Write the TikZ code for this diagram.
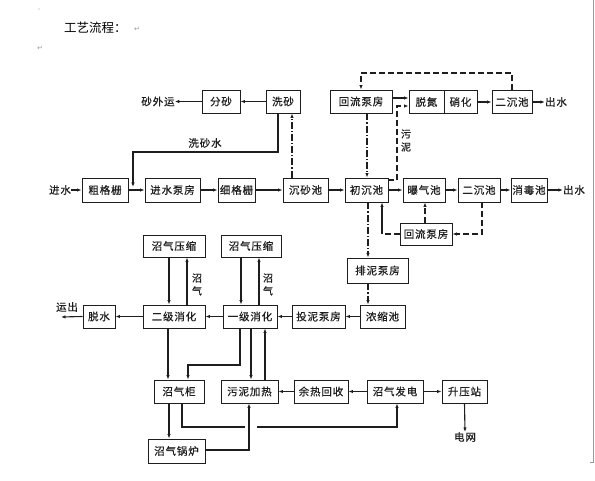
\documentclass[tikz,border=0pt]{standalone}
\usepackage{fontspec}
\newfontfamily\cjk{Noto Sans CJK SC}
\newfontfamily\boxfont{Noto Sans CJK SC}[LetterSpace=8, FakeBold=0.6]
\newfontfamily\symfont{DejaVu Sans}
\usetikzlibrary{arrows.meta}
\definecolor{ink}{HTML}{1E1E1E}
\definecolor{pagegray}{HTML}{9A9A9A}
\tikzset{
  stage/.style={
    rectangle, draw=ink, line width=0.9pt,
    minimum width=#1pt, minimum height=23pt,
    inner sep=0pt, text=ink,
    font=\fontsize{10.5}{12}\boxfont
  },
  stage/.default=45,
  flow/.style={-{Latex[length=4.5pt,width=3.4pt]}, line width=1.1pt, ink},
  sludge/.style={flow, dash pattern=on 7pt off 2pt on 1.2pt off 2pt},
  retflow/.style={flow, dash pattern=on 6pt off 3pt},
  plain/.style={line width=1.1pt, ink},
  tag/.style={inner sep=0pt, text=ink, font=\fontsize{10.5}{12}\boxfont},
  vtag/.style={inner sep=0pt, text=ink, align=center,
    font=\fontsize{10}{13}\boxfont},
  retmark/.style={inner sep=0pt, text=pagegray,
    font=\fontsize{7}{8}\symfont}
}

\begin{document}
\begin{tikzpicture}[x=1pt, y=-1pt]
  \useasboundingbox (0,0) rectangle (595,481);

  % page marks
  \fill[pagegray] (39,9) circle (0.6);
  \node[anchor=west, inner sep=0pt, font=\fontsize{12.5}{14}\cjk]
    (title) at (64,28) {工艺流程：};
  \node[retmark] (retA) at (137,29) {↵};
  \node[retmark] (retB) at (40,48) {↵};
  \draw[pagegray, line width=0.8pt] (593.5,0) -- (593.5,462) -- (590,462);

  % sand line
  \node[tag] (shawaiyun) at (158,101.5) {砂外运};
  \node[stage=38] (fensha) at (221,101.5) {分砂};
  \node[stage=34] (xisha) at (283,101.5) {洗砂};
  \node[tag] (xishashui) at (205,143) {洗砂水};

  % nitrogen removal line
  \node[stage=62] (huiliu) at (361,101.5) {回流泵房};
  \node[stage=35] (tuodan) at (426.5,102) {脱氮};
  \node[stage=33] (xiaohua) at (460.5,102) {硝化};
  \node[stage=40] (erchenA) at (512,102) {二沉池};
  \node[tag] (chushuiA) at (556,102) {出水};
  \node[vtag] (wuni) at (406,140.5) {污\\泥};

  % water line
  \node[tag] (jinshui) at (60,190) {进水};
  \node[stage=46, minimum height=24pt] (cugeshan) at (105,190) {粗格栅};
  \node[stage=55, minimum height=24pt] (bengfang) at (172.5,190) {进水泵房};
  \node[stage=37, minimum height=24pt] (xigeshan) at (236.5,190) {细格栅};
  \node[stage=45, minimum height=24pt] (chensha) at (305.5,190) {沉砂池};
  \node[stage=43, minimum height=24pt] (chuchen) at (366.5,190) {初沉池};
  \node[stage=42, minimum height=24pt] (baoqi) at (424,190) {曝气池};
  \node[stage=42, minimum height=24pt] (erchenB) at (479,190) {二沉池};
  \node[stage=36, minimum height=24pt] (xiaodu) at (529,190) {消毒池};
  \node[tag] (chushuiB) at (574,190) {出水};
  \node[stage=52, minimum height=22pt] (huiliuB) at (426,234) {回流泵房};
  \node[stage=61, minimum height=25pt] (paini) at (377.5,270.5) {排泥泵房};

  % sludge line
  \node[tag] (yunchu) at (67,307) {运出};
  \node[stage=32] (tuoshui) at (99,316.5) {脱水};
  \node[stage=62] (erji) at (174,316.5) {二级消化};
  \node[stage=54] (yiji) at (250,316.5) {一级消化};
  \node[stage=53] (tounii) at (318.5,316.5) {投泥泵房};
  \node[stage=45] (nongsuo) at (382.5,316.5) {浓缩池};
  \node[stage=62, minimum height=22pt] (yasuoA) at (174,246) {沼气压缩};
  \node[stage=60, minimum height=22pt] (yasuoB) at (251,246) {沼气压缩};
  \node[vtag] (zhaoqiA) at (197,284.5) {沼\\气};
  \node[vtag] (zhaoqiB) at (268,284.5) {沼\\气};

  % biogas line
  \node[stage=50] (qigui) at (179,391.5) {沼气柜};
  \node[stage=57] (jiare) at (249.5,391.5) {污泥加热};
  \node[stage=54] (yure) at (321,391.5) {余热回收};
  \node[stage=56] (fadian) at (395,391.5) {沼气发电};
  \node[stage=45] (shengya) at (464.5,391.5) {升压站};
  \node[tag] (dianwang) at (465,437) {电网};
  \node[stage=57, minimum height=24pt] (guolu) at (176.5,451) {沼气锅炉};

  \coordinate (xsw) at (133,187);
  \coordinate (topA) at (361,73);
  \coordinate (wn) at (397,106);
  \coordinate (hc) at (382,234);
  \coordinate (yc) at (61,317);
  \coordinate (yq) at (188,365);
  \coordinate (gapL) at (245,427);
  \coordinate (gapR) at (257,427);

  % sand connectors
  \draw[flow] (xisha.west) -- (fensha.east);
  \draw[flow] (fensha.west) -- (shawaiyun.east);
  \draw[flow] ([xshift=-5pt]xisha.south) |- (133,152) -- (xsw);
  \draw[sludge] ([xshift=-13.5pt]chensha.north) -- ([xshift=9pt]xisha.south);

  % water connectors
  \draw[flow] (jinshui.east) -- (cugeshan.west);
  \draw[flow] (cugeshan.east) -- (bengfang.west);
  \draw[flow] (bengfang.east) -- (xigeshan.west);
  \draw[flow] (xigeshan.east) -- (chensha.west);
  \draw[flow] (chensha.east) -- (chuchen.west);
  \draw[flow] (chuchen.east) -- (baoqi.west);
  \draw[flow] (baoqi.east) -- (erchenB.west);
  \draw[flow] (erchenB.east) -- (xiaodu.west);
  \draw[flow] (xiaodu.east) -- (chushuiB.west);

  % nitrogen connectors
  \draw[flow] ([yshift=3.5pt]huiliu.east) -- ([yshift=4pt]tuodan.west);
  \draw[flow] (xiaohua.east) -- (erchenA.west);
  \draw[flow] (erchenA.east) -- (chushuiA.west);
  \draw[retflow] (erchenA.north) |- (topA) -- (huiliu.north);
  \draw[retflow] ([yshift=10pt]chuchen.east) -| (wn) -- ([yshift=-4pt]tuodan.west);
  \draw[sludge] ([xshift=6pt]huiliu.south) -- ([xshift=0.5pt]chuchen.north);

  % return sludge connectors
  \draw[retflow] ([xshift=3pt]erchenB.south) |- (huiliuB.east);
  \draw[retflow] ([xshift=-1pt]huiliuB.north) -- ([xshift=1pt]baoqi.south);
  \draw[plain, dash pattern=on 6pt off 3pt] (huiliuB.west) -- (hc);
  \draw[flow] (hc) -- ([xshift=15.5pt]chuchen.south);
  \draw[sludge] ([xshift=1.5pt]chuchen.south) -- ([xshift=-9.5pt]paini.north);
  \draw[sludge] ([xshift=-9.5pt]paini.south) -- ([xshift=-14.5pt]nongsuo.north);

  % digestion connectors
  \draw[flow] (nongsuo.west) -- (tounii.east);
  \draw[flow] (tounii.west) -- (yiji.east);
  \draw[flow] (yiji.west) -- (erji.east);
  \draw[flow] (erji.west) -- (tuoshui.east);
  \draw[flow] (tuoshui.west) -- (yc);
  \draw[flow] ([xshift=-5pt]yasuoA.south) -- ([xshift=-5pt]erji.north);
  \draw[flow] ([xshift=13pt]erji.north) -- ([xshift=13pt]yasuoA.south);
  \draw[flow] ([xshift=-10pt]yasuoB.south) -- ([xshift=-9pt]yiji.north);
  \draw[flow] ([xshift=9pt]yiji.north) -- ([xshift=8pt]yasuoB.south);

  % biogas connectors
  \draw[flow] ([xshift=-6pt]erji.south) -- ([xshift=-11pt]qigui.north);
  \draw[flow] ([xshift=-10pt]yiji.south) |- (yq) -- ([xshift=9pt]qigui.north);
  \draw[flow] ([xshift=1pt]yiji.south) -- ([xshift=1.5pt]jiare.north);
  \draw[flow] ([xshift=15.5pt]jiare.north) -- ([xshift=15pt]yiji.south);
  \draw[flow] (yure.west) -- (jiare.east);
  \draw[flow] (fadian.west) -- (yure.east);
  \draw[flow] (fadian.east) -- (shengya.west);
  \draw[flow] (shengya.south) -- (dianwang.north);
  \draw[flow] ([xshift=-10pt]qigui.south) -- ([xshift=-7.5pt]guolu.north);
  \draw[plain] ([xshift=3pt]qigui.south) |- (gapL);
  \draw[flow] (gapR) -| ([xshift=2pt]fadian.south);
  \draw[flow] ([yshift=1pt]guolu.east) -| ([xshift=-0.5pt]jiare.south);

\end{tikzpicture}
\end{document}
